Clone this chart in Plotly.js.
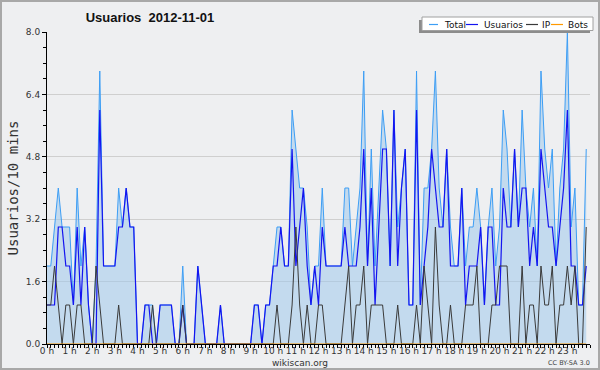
<!DOCTYPE html>
<html><head><meta charset="utf-8">
<script src="https://cdn.plot.ly/plotly-3.0.1.min.js"></script>
<style>
html,body{margin:0;padding:0;background:#eeeff1}
#wrap{position:relative;width:600px;height:370px}
#chart{width:600px;height:370px}
#frame{position:absolute;left:0;top:0;width:600px;height:370px;box-sizing:border-box;border:2px solid #a8a8a8;pointer-events:none}
</style></head><body>
<div id="wrap"><div id="chart"></div><div id="frame"></div></div>
<script>
// values per 10-minute slot, 00:00 .. 23:50
const totalSeries = [
 2,2,3,4,3,3, 3,1,4,2,3,1, 0,2,7,2,2,2, 2,4,3,4,3,3,
 0,0,1,1,1,0, 1,1,1,1,0,0, 2,0,0,0,2,1, 0,0,0,0,1,0,
 0,0,0,0,0,0, 0,1,1,0,1,1, 2,3,3,2,2,6, 5,4,4,3,1,2,
 2,4,2,2,2,2, 2,4,4,2,3,4, 7,2,5,2,4,6, 5,2,6,3,4,5,
 1,1,7,1,4,4, 5,7,4,3,5,3, 2,2,4,2,3,3, 4,3,1,3,4,2,
 3,6,5,3,5,3, 6,4,3,4,2,7, 5,4,5,2,4,5, 8,3,4,1,1,5
];
const usuariosSeries = [
 1,1,1,3,3,2, 2,1,3,1,3,1, 0,0,6,2,2,2, 2,3,3,4,3,3,
 0,0,1,1,0,0, 1,1,1,1,0,0, 1,0,0,0,2,1, 0,0,0,0,1,0,
 0,0,0,0,0,0, 0,1,1,0,1,1, 2,2,3,2,2,5, 2,3,4,2,1,2,
 1,3,2,2,2,2, 2,3,2,2,2,3, 5,2,4,1,3,5, 5,2,6,2,4,5,
 1,1,6,1,2,3, 5,4,3,3,5,2, 2,2,4,1,2,2, 2,3,1,3,3,1,
 1,4,3,3,5,3, 4,4,2,3,2,5, 4,3,3,2,3,4, 6,2,2,1,1,2
];
const ipSeries = [
 1,1,2,1,0,1, 1,0,1,1,0,0, 0,2,1,0,0,0, 0,1,0,0,0,0,
 0,0,0,0,1,0, 0,0,0,0,0,0, 1,0,0,0,0,0, 0,0,0,0,0,0,
 0,0,0,0,0,0, 0,0,0,0,0,0, 0,1,0,0,0,1, 3,1,0,1,0,0,
 1,1,0,0,0,0, 0,1,2,0,1,1, 2,0,1,1,1,1, 0,0,0,1,0,0,
 0,0,1,0,2,1, 0,3,1,0,0,1, 0,0,0,1,1,1, 2,0,0,0,1,1,
 2,2,2,0,0,0, 2,0,1,1,0,2, 1,1,2,0,1,1, 2,1,2,0,0,3
];
const botsSeries = [
 0,0,0,0,0,0, 0,0,0,0,0,0, 0,0,0,0,0,0, 0,0,0,0,0,0,
 0,0,0,0,0,0, 0,0,0,0,0,0, 0,0,0,0,0,0, 0,0,0,0,0,0,
 0,0,0,0,0,0, 0,0,0,0,0,0, 0,0,0,0,0,0, 0,0,0,0,0,0,
 0,0,0,0,0,0, 0,0,0,0,0,0, 0,0,0,0,0,0, 0,0,0,0,0,0,
 0,0,0,0,0,0, 0,0,0,0,0,0, 0,0,0,0,0,0, 0,0,0,0,0,0,
 0,0,0,0,0,0, 0,0,0,0,0,0, 0,0,0,0,0,0, 0,0,0,0,0,0
];
const hourTicks = [0,1,2,3,4,5,6,7,8,9,10,11,12,13,14,15,16,17,18,19,20,21,22,23];
const hourLabels = ["0 h","1 h","2 h","3 h","4 h","5 h","6 h","7 h","8 h","9 h","10 h","11 h","12 h","13 h","14 h","15 h","16 h","17 h","18 h","19 h","20 h","21 h","22 h","23 h"];
const seriesNames = ["Total","Usuarios","IP","Bots"];
const seriesColors = ["#3d9ef5","#1414f0","#3a3a3a","#ff9900"];
const chartTitle = "Usuarios\u00a0 2012-11-01";
const yTitle = "Usuarios/10 mins";

const slotHours = totalSeries.map((_, i) => i / 6);

const W = 600, H = 370, L = 47, R = 10, T = 32, B = 26;
const PW = W - L - R, PH = H - T - B;
const px = x => (x - L) / PW;
const py = y => (H - B - y) / PH;

const traces = [
  {x: slotHours, y: totalSeries, type: 'scatter', mode: 'lines', name: seriesNames[0],
   fill: 'tozeroy', fillcolor: 'rgba(160,200,235,0.55)', line: {color: seriesColors[0], width: 1}},
  {x: slotHours, y: usuariosSeries, type: 'scatter', mode: 'lines', name: seriesNames[1],
   line: {color: seriesColors[1], width: 1.2}},
  {x: slotHours, y: ipSeries, type: 'scatter', mode: 'lines', name: seriesNames[2],
   line: {color: seriesColors[2], width: 1}},
  {x: slotHours, y: botsSeries, type: 'scatter', mode: 'lines', name: seriesNames[3],
   line: {color: seriesColors[3], width: 1}}
];

// custom compact legend
const legendY = 24.5;
const legendLines = [[429,438],[466,478],[526,538],[551,563]];
const legendTextX = [442,482,540,566];
const shapes = [
  {type:'rect', xref:'paper', yref:'paper', x0:px(419), x1:px(590), y0:py(33), y1:py(20), fillcolor:'#8c8c8c', line:{width:0}},
  {type:'rect', xref:'paper', yref:'paper', x0:px(422), x1:px(593), y0:py(30.5), y1:py(17), fillcolor:'#ffffff', line:{color:'#a0a0a0', width:1}}
];
const annotations = [];
seriesNames.forEach((n, k) => {
  shapes.push({type:'line', xref:'paper', yref:'paper', x0:px(legendLines[k][0]), x1:px(legendLines[k][1]), y0:py(legendY), y1:py(legendY), line:{color:seriesColors[k], width:1.2}});
  annotations.push({xref:'paper', yref:'paper', x:px(legendTextX[k]), y:py(legendY), xanchor:'left', yanchor:'middle', text:n, showarrow:false, font:{family:'DejaVu Sans', size:9, color:'#111'}});
});
annotations.push({xref:'paper', yref:'paper', x:px(300), y:py(362.5), xanchor:'center', yanchor:'middle', text:'wikiscan.org', showarrow:false, font:{family:'DejaVu Sans', size:9, color:'#333'}});
annotations.push({xref:'paper', yref:'paper', x:px(569), y:py(363), xanchor:'center', yanchor:'middle', text:'CC BY-SA 3.0', showarrow:false, font:{family:'DejaVu Sans', size:6.5, color:'#444'}});

const layout = {
  width: W, height: H,
  margin: {l: L, r: R, t: T, b: B},
  paper_bgcolor: '#eeeff1', plot_bgcolor: '#eeeff1',
  showlegend: false,
  title: {text: chartTitle, x: 0.25, xref: 'container', xanchor: 'center', y: 1 - 17/H, yref: 'container', yanchor: 'middle',
          font: {family: 'Liberation Sans', size: 13, color: '#111', weight: 'bold'}},
  xaxis: {range: [0, 24], tickvals: hourTicks, ticktext: hourLabels, ticks: 'outside', ticklen: 3, tickcolor: '#000', tickwidth: 1,
          ticklabelstandoff: -5,
          minor: {dtick: 1/6, ticks: 'outside', ticklen: 3, tickcolor: '#000', showgrid: false},
          showgrid: false, zeroline: false, showline: true, linecolor: '#000', linewidth: 1,
          tickfont: {family: 'DejaVu Sans', size: 9, color: '#333'}, fixedrange: true},
  yaxis: {range: [0, 8], tick0: 0, dtick: 1.6, tickformat: '.1f', ticks: 'outside', ticklen: 4, tickcolor: '#000', tickwidth: 1,
          minor: {dtick: 0.4, ticks: 'outside', ticklen: 3, tickcolor: '#000', showgrid: false},
          showgrid: true, gridcolor: '#cfcfcf', gridwidth: 1, zeroline: false, showline: true, linecolor: '#000', linewidth: 1,
          tickfont: {family: 'DejaVu Sans', size: 9, color: '#333'},
          title: {text: yTitle, standoff: 3, font: {family: 'DejaVu Sans Mono', size: 14, color: '#333'}}, fixedrange: true},
  shapes: shapes,
  annotations: annotations
};

Plotly.newPlot('chart', traces, layout, {displayModeBar: false, staticPlot: true});
</script>
</body></html>
